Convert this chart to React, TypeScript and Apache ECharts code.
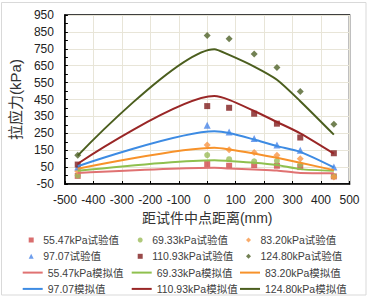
import { useEffect, useRef } from 'react';
import * as echarts from 'echarts';

const groupNames = ['55.47kPa', '69.33kPa', '83.20kPa', '97.07', '110.93kPa', '124.80kPa'];
const testX = [-455, 0, 77, 165, 245, 327, 445];
const simX = [-455, 25, 77, 165, 245, 327, 445];

const test5547 = [-2, 68, 58, 62, 58, 50, -5];
const test6933 = [0, 121, 97, 84, 87, 65, -5];
const test8320 = [25, 181, 152, 136, 120, 100, -8];
const test9707 = [50, 297, 258, 219, 181, 150, 50];
const test11093 = [65, 411, 401, 366, 307, 225, 132];
const test12480 = [120, 828, 809, 719, 640, 497, 303];

const sim5547 = [15, 46, 42, 36, 30, 15, 14];
const sim6933 = [28, 91, 86, 76, 62, 38, 28];
const sim8320 = [40, 164, 154, 130, 105, 76, 32];
const sim9707 = [55, 262, 252, 213, 174, 140, 48];
const sim11093 = [70, 470, 448, 382, 317, 250, 130];
const sim12480 = [118, 748, 714, 645, 567, 440, 242];

const testValues = [test5547, test6933, test8320, test9707, test11093, test12480];
const simValues = [sim5547, sim6933, sim8320, sim9707, sim11093, sim12480];

const markerColors = ['#cf4a4a', '#9bbb59', '#f79646', '#4a86e8', '#7f1d1d', '#4f6228'];
const lineColors = ['#e07272', '#8fc04e', '#f7922a', '#3d8be3', '#992626', '#4b5e1e'];
const symbols = ['rect', 'circle', 'diamond', 'triangle', 'rect', 'diamond'];
const symbolSizes = [6, 6, 7, 7, 6, 7];
const legendIcons = [
  'path://M0,0H10V10H0Z',
  'circle',
  'path://M5,0L10,5L5,10L0,5Z',
  'path://M5,0L10,10H0Z',
  'path://M0,0H10V10H0Z',
  'path://M5,0L10,5L5,10L0,5Z',
];
const lineIcon = 'path://M0,0H20V2H0Z';

const FONT = 'Arial, "Liberation Sans", "Noto Sans CJK SC", sans-serif';

export default function App() {
  const ref = useRef<HTMLDivElement>(null);
  useEffect(() => {
    if (!ref.current) return;
    const chart = echarts.init(ref.current, undefined, { renderer: 'svg' });
    const testNames = groupNames.map((g) => g + '试验值');
    const simNames = groupNames.map((g) => g + '模拟值');

    const series: any[] = [];
    groupNames.forEach((_, i) => {
      series.push({
        name: testNames[i],
        type: 'scatter',
        symbol: symbols[i],
        symbolSize: symbolSizes[i],
        itemStyle: { color: markerColors[i] },
        data: testX.map((x, j) => [x, testValues[i][j]]),
        z: 3,
      });
    });
    groupNames.forEach((_, i) => {
      series.push({
        name: simNames[i],
        type: 'line',
        symbol: 'none',
        showSymbol: false,
        smooth: 0.25,
        lineStyle: { color: lineColors[i], width: 2 },
        itemStyle: { color: lineColors[i] },
        data: simX.map((x, j) => [x, simValues[i][j]]),
        z: 4,
      });
    });

    const colText = [47.7, 156.7, 265];
    const rowCenters = [240, 256.3, 272.6, 288.9];
    const legendText = { fontSize: 10.5, color: '#404040', fontFamily: FONT, lineHeight: 14 };
    const legends: any[] = [];
    for (let c = 0; c < 3; c++) {
      legends.push({
        orient: 'vertical',
        left: colText[c] - 19,
        top: rowCenters[0] - 7,
        padding: 0,
        itemGap: 2.3,
        itemWidth: 14,
        itemHeight: 5,
        textStyle: legendText,
        data: [c, c + 3].map((k) => ({ name: testNames[k], icon: legendIcons[k] })),
      });
      legends.push({
        orient: 'vertical',
        left: colText[c] - 25,
        top: rowCenters[2] - 7,
        padding: 0,
        itemGap: 2.3,
        itemWidth: 20,
        itemHeight: 2,
        textStyle: legendText,
        data: [c, c + 3].map((k) => ({ name: simNames[k], icon: lineIcon })),
      });
    }

    chart.setOption({
      animation: false,
      backgroundColor: '#ffffff',
      textStyle: { fontFamily: FONT },
      graphic: [
        {
          type: 'rect',
          shape: { x: 1.5, y: 2.5, width: 364.5, height: 292.5 },
          style: { fill: 'none', stroke: '#d9d9d9', lineWidth: 1 },
          silent: true,
        },
      ],
      grid: {
        left: 57.5,
        top: 15,
        width: 292,
        height: 169,
        show: true,
        borderColor: '#000',
        borderWidth: 1.5,
        backgroundColor: 'transparent',
      },
      legend: legends,
      xAxis: {
        type: 'value',
        min: -500,
        max: 500,
        interval: 100,
        name: '距试件中点距离(mm)',
        nameLocation: 'middle',
        nameGap: 25,
        nameTextStyle: { fontSize: 14, color: '#333', fontFamily: FONT },
        axisLine: { show: true, onZero: false, lineStyle: { color: '#000', width: 1.5 } },
        axisTick: { show: true, inside: true, length: 3, lineStyle: { color: '#000', width: 1 } },
        axisLabel: { fontSize: 12, color: '#222', margin: 10, fontFamily: FONT },
        splitLine: { show: true, lineStyle: { color: '#e8e5d8', width: 1 } },
      },
      yAxis: {
        type: 'value',
        min: -50,
        max: 950,
        interval: 100,
        name: '拉应力(kPa)',
        nameLocation: 'middle',
        nameGap: 35,
        nameTextStyle: { fontSize: 15, color: '#333', fontFamily: FONT },
        axisLine: { show: true, onZero: false, lineStyle: { color: '#000', width: 1.5 } },
        axisTick: { show: true, inside: true, length: 3, lineStyle: { color: '#000', width: 1 } },
        minorTick: { show: true, splitNumber: 2, length: 3, lineStyle: { color: '#000', width: 1 } },
        axisLabel: { fontSize: 12, color: '#222', margin: 11, fontFamily: FONT },
        splitLine: { show: true, lineStyle: { color: '#e8e5d8', width: 1 } },
      },
      series,
    });
    return () => chart.dispose();
  }, []);
  return (
    <div
      ref={ref}
      style={{ position: 'fixed', left: 0, top: 0, width: 368, height: 297, background: '#fff' }}
    />
  );
}
